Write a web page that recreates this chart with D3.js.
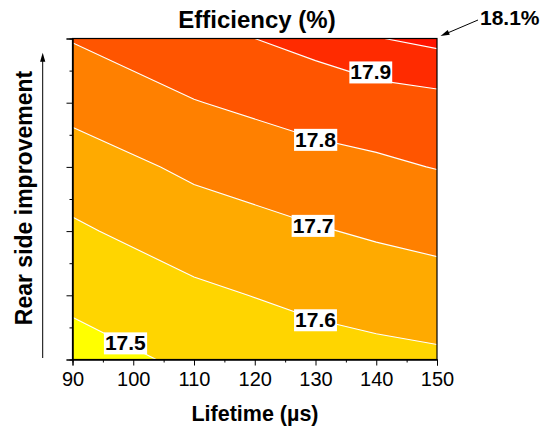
<!DOCTYPE html>
<html>
<head>
<meta charset="utf-8">
<script src="https://cdn.jsdelivr.net/npm/d3@7"></script>
<style>
  body { margin: 0; background: #fff; }
  svg text { font-family: "Liberation Sans", Arial, sans-serif; fill: #000; }
</style>
</head>
<body>
<svg id="chart" width="542" height="432"></svg>
<script>
// grid: lifetime columns, rear side steps (bottom -> top)
const lifetimes = [90, 110, 130, 140, 150];
const rearSteps = [0, 1, 2, 3, 4, 5];
const eff = [
    [17.458, 17.519, 17.558, 17.572, 17.583],
    [17.522, 17.580, 17.625, 17.642, 17.656],
    [17.586, 17.650, 17.693, 17.712, 17.729],
    [17.650, 17.719, 17.766, 17.786, 17.803],
    [17.731, 17.796, 17.843, 17.848, 17.866],
    [17.805, 17.870, 17.930, 17.996, 18.025]
];
const levels = [17.5, 17.6, 17.7, 17.8, 17.9, 18.0];
const bandColors = ["#ffff00", "#ffd500", "#ffaa00", "#ff8000", "#ff5500", "#ff2b00", "#ff1500"];

const xTicks = [90, 100, 110, 120, 130, 140, 150];
const xMinor = [95, 105, 115, 125, 135, 145];
const yMinor = [0.5, 1.5, 2.5, 3.5, 4.5];

// contour labels: level and where it sits (lifetime, rear step)
const labelLevels = [17.5, 17.6, 17.7, 17.8, 17.9];
const labelLifetime = [98.7, 130, 129.6, 130, 139.1];
const labelRear = [0.26, 0.62, 2.09, 3.43, 4.48];

const maxLabel = "18.1%";

const svg = d3.select("#chart");
const x0 = 72.5, x1 = 437, y0 = 38.5, y1 = 359.5;

const x = d3.scaleLinear().domain([90, 150]).range([x0, x1]);
const y = d3.scaleLinear().domain([0, 5]).range([y1, y0]);

// grid index -> data value (piecewise, columns are not evenly spaced)
const colL = d3.scaleLinear().domain(d3.range(lifetimes.length)).range(lifetimes);
const rowR = d3.scaleLinear().domain(d3.range(rearSteps.length)).range(rearSteps);

const nx = lifetimes.length, ny = rearSteps.length;
const contours = d3.contours().size([nx, ny]).thresholds(levels)(eff.flat());

const project = d3.geoTransform({
    point: function (px, py) {
        this.stream.point(x(colL(px - 0.5)), y(rowR(py - 0.5)));
    }
});
const path = d3.geoPath(project);

svg.append("defs").append("clipPath").attr("id", "plot-clip")
    .append("rect")
    .attr("x", x0).attr("y", y0)
    .attr("width", x1 - x0).attr("height", y1 - y0);

const plot = svg.append("g").attr("clip-path", "url(#plot-clip)");

plot.append("rect")
    .attr("x", x0).attr("y", y0)
    .attr("width", x1 - x0).attr("height", y1 - y0)
    .attr("fill", bandColors[0]);

plot.selectAll("path.band")
    .data(contours)
    .enter()
    .append("path")
    .attr("class", "band")
    .attr("d", path)
    .attr("fill", (d, i) => bandColors[i + 1]);

plot.selectAll("path.iso")
    .data(contours)
    .enter()
    .append("path")
    .attr("class", "iso")
    .attr("d", path)
    .attr("fill", "none")
    .attr("stroke", "#fff")
    .attr("stroke-width", 1.1);

// contour labels with white boxes
labelLevels.forEach((lv, i) => {
    const g = svg.append("g")
        .attr("transform", `translate(${x(labelLifetime[i])},${y(labelRear[i])})`);
    const t = g.append("text")
        .attr("text-anchor", "middle")
        .attr("dy", "0.36em")
        .style("font-size", "21px")
        .style("font-weight", "bold")
        .text(lv.toFixed(1));
    const b = t.node().getBBox();
    g.insert("rect", "text")
        .attr("x", b.x - 1).attr("y", b.y + 1)
        .attr("width", b.width + 2).attr("height", b.height - 1)
        .attr("fill", "#fff");
});

// axes
const xAxis = svg.append("g")
    .attr("transform", `translate(0,${y1})`)
    .call(d3.axisBottom(x).tickValues(xTicks).tickSize(6).tickPadding(6));
svg.append("g")
    .attr("transform", `translate(0,${y1})`)
    .call(d3.axisBottom(x).tickValues(xMinor).tickSize(3).tickFormat(""));
svg.append("g")
    .attr("transform", `translate(${x0},0)`)
    .call(d3.axisLeft(y).tickValues(rearSteps).tickSize(6).tickFormat(""));
svg.append("g")
    .attr("transform", `translate(${x0},0)`)
    .call(d3.axisLeft(y).tickValues(yMinor).tickSize(3).tickFormat(""));

xAxis.selectAll("text")
    .style("font-size", "20px")
    .style("font-family", "Liberation Sans, Arial, sans-serif");
svg.selectAll(".domain").attr("stroke", "#000");
svg.selectAll(".tick line").attr("stroke", "#000");

svg.append("rect")
    .attr("x", x0).attr("y", y0)
    .attr("width", x1 - x0).attr("height", y1 - y0)
    .attr("fill", "none")
    .attr("stroke", "#000")
    .attr("stroke-width", 1.2);

// titles
svg.append("text")
    .attr("x", 257).attr("y", 28)
    .attr("text-anchor", "middle")
    .style("font-size", "24px")
    .style("font-weight", "bold")
    .text("Efficiency (%)");

svg.append("text")
    .attr("x", 255).attr("y", 421)
    .attr("text-anchor", "middle")
    .style("font-size", "21.5px")
    .style("font-weight", "bold")
    .text("Lifetime (µs)");

svg.append("text")
    .attr("transform", "translate(32,198) rotate(-90)")
    .attr("text-anchor", "middle")
    .style("font-size", "23px")
    .style("font-weight", "bold")
    .text("Rear side improvement");

// arrows
function arrow(xa, ya, xb, yb) {
    const len = Math.hypot(xb - xa, yb - ya);
    const ux = (xb - xa) / len, uy = (yb - ya) / len;
    const hl = 9, hw = 2.6;
    const bx = xb - ux * hl, by = yb - uy * hl;
    svg.append("line")
        .attr("x1", xa).attr("y1", ya).attr("x2", bx + ux * 2).attr("y2", by + uy * 2)
        .attr("stroke", "#000").attr("stroke-width", 1);
    svg.append("polygon")
        .attr("points", [[xb, yb], [bx - uy * hw, by + ux * hw], [bx + uy * hw, by - ux * hw]].join(" "))
        .attr("fill", "#000");
}
arrow(42.7, 358, 42.7, 52.7);
arrow(478, 20, x1 + 3.5, y0 - 2.5);

svg.append("text")
    .attr("x", 480).attr("y", 25)
    .style("font-size", "21px")
    .style("font-weight", "bold")
    .text(maxLabel);
</script>
</body>
</html>
